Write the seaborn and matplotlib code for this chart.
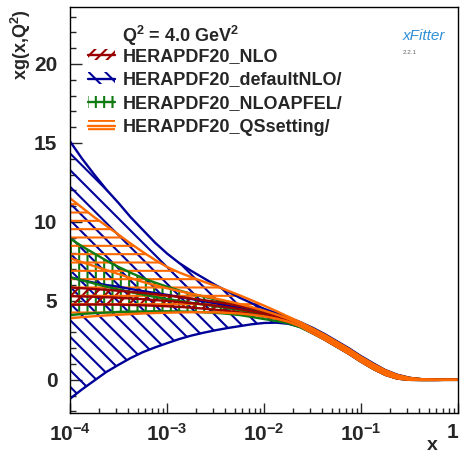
import numpy as np
import pandas as pd
import seaborn as sns
import matplotlib.pyplot as plt
from matplotlib.patches import Patch
from matplotlib.lines import Line2D
from matplotlib.ticker import FixedLocator, FixedFormatter, MultipleLocator

# sampling points in log10(x), eighth of a decade
log_x = [-4.0, -3.875, -3.75, -3.625, -3.5, -3.375, -3.25, -3.125, -3.0,
         -2.875, -2.75, -2.625, -2.5, -2.375, -2.25, -2.125, -2.0,
         -1.875, -1.75, -1.625, -1.5,
         -1.375, -1.25, -1.125, -1.0, -0.875, -0.75, -0.625, -0.5, -0.375, -0.25, -0.125, 0.0]
x = np.power(10.0, log_x)

# large-x region where all bands coincide
tail_hi = [2.85, 2.4, 1.95, 1.45, 1.0, 0.6, 0.3, 0.12, 0.04, 0.01, 0.0, 0.0]
tail_c = [2.7, 2.25, 1.8, 1.3, 0.85, 0.45, 0.18, 0.05, 0.01, 0.0, 0.0, 0.0]
tail_lo = [2.55, 2.1, 1.65, 1.15, 0.7, 0.32, 0.08, 0.0, -0.01, -0.01, 0.0, 0.0]
tail_hi_blue = [2.9, 2.45, 2.0, 1.5, 1.05, 0.62, 0.32, 0.13, 0.04, 0.01, 0.0, 0.0]

# HERAPDF20_defaultNLO/ (blue)
blue_hi = [15.1, 14.0, 13.0, 12.05, 11.2, 10.3, 9.5, 8.7, 8.0, 7.4, 6.9, 6.45, 6.0,
           5.6, 5.2, 4.85, 4.5, 4.22, 3.95, 3.65, 3.3] + tail_hi_blue
blue_c = [6.5, 6.3, 6.15, 6.0, 5.9, 5.75, 5.62, 5.5, 5.38, 5.25, 5.12, 4.98, 4.85,
          4.7, 4.55, 4.38, 4.2, 4.0, 3.78, 3.48, 3.12] + tail_c
blue_lo = [-1.2, -0.6, -0.05, 0.5, 0.95, 1.38, 1.75, 2.05, 2.32, 2.58, 2.8, 2.98, 3.14,
           3.28, 3.4, 3.52, 3.6, 3.62, 3.55, 3.35, 2.95] + tail_lo

# HERAPDF20_QSsetting/ (orange)
orange_hi = [11.5, 10.9, 10.3, 9.75, 9.2, 8.63, 8.1, 7.6, 7.15, 6.8, 6.5, 6.22, 5.95,
             5.65, 5.35, 5.03, 4.7, 4.36, 4.0, 3.65, 3.25] + tail_hi
orange_c = [7.7, 7.45, 7.2, 6.95, 6.7, 6.45, 6.2, 6.0, 5.8, 5.62, 5.45, 5.3, 5.15,
            4.98, 4.8, 4.6, 4.38, 4.14, 3.86, 3.52, 3.12] + tail_c
orange_lo = [3.9, 3.97, 4.03, 4.08, 4.12, 4.16, 4.2, 4.23, 4.25, 4.27, 4.28, 4.28, 4.27,
             4.24, 4.2, 4.12, 4.02, 3.88, 3.68, 3.38, 2.95] + tail_lo

# HERAPDF20_NLOAPFEL/ (green)
green_hi = [8.95, 8.45, 8.0, 7.55, 7.15, 6.78, 6.45, 6.16, 5.9, 5.66, 5.45, 5.27, 5.1,
            4.9, 4.7, 4.5, 4.3, 4.1, 3.9, 3.6, 3.25] + tail_hi
green_c = [6.5, 6.3, 6.1, 5.9, 5.72, 5.55, 5.4, 5.25, 5.12, 5.0, 4.88, 4.77, 4.66,
           4.54, 4.42, 4.27, 4.1, 3.93, 3.75, 3.46, 3.1] + tail_c
green_lo = [4.1, 4.17, 4.22, 4.26, 4.3, 4.32, 4.33, 4.34, 4.34, 4.33, 4.31, 4.28, 4.24,
            4.18, 4.1, 3.98, 3.85, 3.73, 3.58, 3.32, 2.95] + tail_lo

# HERAPDF20_NLO (red)
red_hi = [5.85, 5.8, 5.75, 5.7, 5.64, 5.57, 5.5, 5.42, 5.34, 5.25, 5.15, 5.05, 4.94,
          4.82, 4.68, 4.52, 4.35, 4.12, 3.87, 3.55, 3.22] + tail_hi
red_c = [5.3, 5.28, 5.26, 5.23, 5.2, 5.15, 5.11, 5.05, 5.0, 4.93, 4.86, 4.78, 4.69,
         4.59, 4.48, 4.34, 4.2, 4.0, 3.78, 3.48, 3.12] + tail_c
red_lo = [4.75, 4.76, 4.77, 4.77, 4.76, 4.74, 4.72, 4.69, 4.66, 4.62, 4.57, 4.51, 4.44,
          4.36, 4.27, 4.16, 4.04, 3.88, 3.68, 3.4, 3.02] + tail_lo

labels = ['HERAPDF20_NLO', 'HERAPDF20_defaultNLO/', 'HERAPDF20_NLOAPFEL/', 'HERAPDF20_QSsetting/']
xtick_vals = [1e-4, 1e-3, 1e-2, 1e-1, 1.0]
xtick_labels = ['$10^{-4}$', '$10^{-3}$', '$10^{-2}$', '$10^{-1}$', '1']

sns.set_style('ticks')
plt.rcParams['font.family'] = ['Liberation Sans', 'DejaVu Sans']
plt.rcParams['font.weight'] = 'bold'
plt.rcParams['mathtext.fontset'] = 'custom'
plt.rcParams['mathtext.rm'] = 'Liberation Sans:bold'
plt.rcParams['mathtext.it'] = 'Liberation Sans:bold'
plt.rcParams['mathtext.bf'] = 'Liberation Sans:bold'
plt.rcParams['mathtext.default'] = 'rm'
plt.rcParams['hatch.linewidth'] = 1.5

fig = plt.figure(figsize=(4.62, 4.53), dpi=100)
ax = fig.add_axes([0.1515, 0.0883, 0.8398, 0.896])

# drawing order: blue, green, red, orange on top
bands = [
    ('HERAPDF20_defaultNLO/', '#000099', '\\\\', blue_lo, blue_c, blue_hi),
    ('HERAPDF20_NLOAPFEL/', '#0f7a0f', '||', green_lo, green_c, green_hi),
    ('HERAPDF20_NLO', '#9a0000', '///', red_lo, red_c, red_hi),
    ('HERAPDF20_QSsetting/', '#ff6a00', '--', orange_lo, orange_c, orange_hi),
]
style = {}
n = len(log_x)
for name, col, hatch, lo, c, hi in bands:
    ax.fill_between(x, lo, hi, facecolor='none', edgecolor=col, hatch=hatch, linewidth=0)
    df = pd.DataFrame({'x': np.tile(x, 3), 'y': lo + c + hi,
                       'part': ['lo'] * n + ['c'] * n + ['hi'] * n})
    sns.lineplot(data=df, x='x', y='y', units='part', estimator=None,
                 color=col, linewidth=1.7, ax=ax)
    style[name] = (col, hatch)

ax.set_xscale('log')
ax.set_xlim(1e-4, 1.0)
ax.set_ylim(-2.1, 23.6)

ax.xaxis.set_major_locator(FixedLocator(xtick_vals))
ax.xaxis.set_major_formatter(FixedFormatter(xtick_labels))
ax.xaxis.set_minor_locator(FixedLocator(
    [m * 10.0 ** e for e in range(-4, 0) for m in range(2, 10)]))
ax.yaxis.set_major_locator(MultipleLocator(5))
ax.yaxis.set_minor_locator(MultipleLocator(1))
ax.tick_params(axis='both', which='both', direction='in', top=False, right=False,
               width=1.0, labelsize=15)
ax.tick_params(axis='y', which='major', length=8.5, pad=9)
ax.tick_params(axis='y', which='minor', length=4.5)
ax.tick_params(axis='x', which='major', length=7, pad=7)
ax.tick_params(axis='x', which='minor', length=3.5)
for sp in ax.spines.values():
    sp.set_linewidth(1.0)
    sp.set_color('black')

# keep the "1" at the right edge inside the picture
fig.canvas.draw()
ax.get_xticklabels()[-1].set_horizontalalignment('right')

ax.set_xlabel('x', fontsize=14, fontweight='bold')
ax.xaxis.set_label_coords(0.935, -0.058)
ax.set_ylabel('xg(x,Q$^2$)', fontsize=13, fontweight='bold', loc='top')
ax.yaxis.set_label_coords(-0.095, 0.995)

ax.text(0.134, 0.928, 'Q$^2$ = 4.0 GeV$^2$', transform=ax.transAxes,
        fontsize=13, fontweight='bold', va='center', ha='left')

handles = []
for name in labels:
    col, hatch = style[name]
    handles.append((Patch(facecolor='none', edgecolor=col, hatch=hatch, linewidth=0),
                    Line2D([], [], color=col, linewidth=1.7)))
ax.legend(handles, labels, loc='upper left', bbox_to_anchor=(0.046, 0.9),
          frameon=False, handlelength=1.5, handleheight=0.6,
          handletextpad=0.45, labelspacing=0.38, borderpad=0, borderaxespad=0,
          prop={'weight': 'bold', 'size': 13})

# xFitter logo as text
ax.text(0.912, 0.928, 'xFitter', transform=ax.transAxes, fontsize=11,
        style='italic', fontweight='normal', color='#2f8fd6', ha='center', va='center')
ax.text(0.876, 0.889, '2.2.1', transform=ax.transAxes, fontsize=4.5,
        fontweight='normal', color='#666666', ha='center', va='center')

fig.savefig('out.png', dpi=100)
